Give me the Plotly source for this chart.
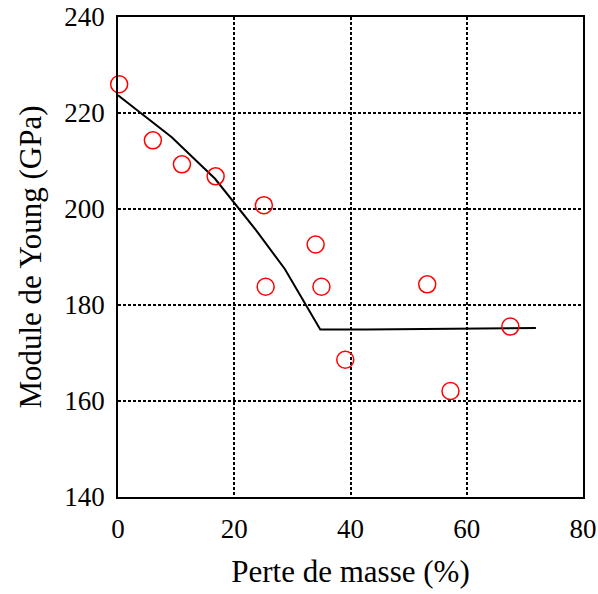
import plotly.graph_objects as go

# Measured points
perte_pts = [0.2, 6.0, 11.0, 16.8, 25.1, 25.4, 34.0, 35.0, 39.1, 53.2, 57.2, 67.5]
module_pts = [226.0, 214.3, 209.3, 206.8, 200.8, 183.8, 192.6, 183.8, 168.6, 184.3, 162.1, 175.5]

# Model curve
perte_fit = [0.0, 9.2, 16.7, 20.6, 23.8, 28.7, 33.3, 34.8, 42.7, 71.9]
module_fit = [223.7, 215.0, 206.3, 200.4, 195.5, 187.5, 178.1, 174.9, 174.9, 175.2]

x_ticks = [0, 20, 40, 60, 80]
y_ticks = [140, 160, 180, 200, 220, 240]

FONT = "Liberation Serif"

fig = go.Figure()
fig.add_trace(go.Scatter(x=perte_fit, y=module_fit, mode="lines",
                         line=dict(color="black", width=2), showlegend=False))
fig.add_trace(go.Scatter(x=perte_pts, y=module_pts, mode="markers",
                         marker=dict(symbol="circle-open", size=17,
                                     color="red", line=dict(color="red", width=1.5)),
                         showlegend=False, cliponaxis=False))

axis_common = dict(showline=True, mirror=True, linecolor="black", linewidth=1.5,
                   showgrid=True, gridcolor="black", gridwidth=1.5, griddash="3px,2px",
                   zeroline=False, ticks="", automargin=False,
                   tickfont=dict(family=FONT, size=27, color="black"))

fig.update_xaxes(range=[0, 80], tickvals=x_ticks, ticklabelstandoff=7,
                 title=dict(text="Perte de masse (%)", font=dict(family=FONT, size=31, color="black"),
                            standoff=17),
                 **axis_common)
fig.update_yaxes(range=[140, 240], tickvals=y_ticks, ticklabelstandoff=6,
                 title=dict(text="Module de Young (GPa)", font=dict(family=FONT, size=31, color="black"),
                            standoff=13),
                 **axis_common)

fig.update_layout(width=598, height=594, plot_bgcolor="white", paper_bgcolor="white",
                  margin=dict(l=118, r=15, t=17, b=97), font=dict(family=FONT))

fig.write_html("out.html", config={"displayModeBar": False},
               post_script="document.body.style.margin='0';")
